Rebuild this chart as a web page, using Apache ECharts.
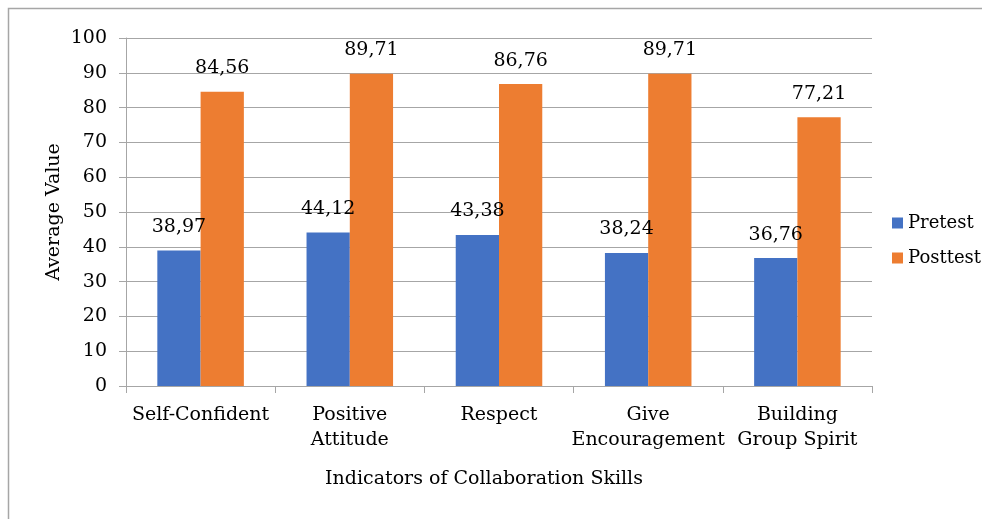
<!DOCTYPE html>
<html>
<head>
<meta charset="utf-8">
<script src="https://cdn.jsdelivr.net/npm/echarts@6/dist/echarts.min.js"></script>
<style>
  html, body { margin: 0; padding: 0; background: #fff; }
  #chart { width: 982px; height: 519px; }
</style>
</head>
<body>
<div id="chart"></div>
<script>
var categories = ['Self-Confident', 'Positive\nAttitude', 'Respect', 'Give\nEncouragement', 'Building\nGroup Spirit'];
var pretest = [38.97, 44.12, 43.38, 38.24, 36.76];
var posttest = [84.56, 89.71, 86.76, 89.71, 77.21];
var yTicks = { min: 0, max: 100, interval: 10 };

var FONT = 'DejaVu Serif';
var FS = 19;
var chart = echarts.init(document.getElementById('chart'));

function fmt(p) {
  return p.value.toFixed(2).replace('.', ',');
}

var option = {
  textStyle: { fontFamily: FONT, color: '#000' },
  animation: false,
  grid: { left: 126, right: 110, top: 38, bottom: 133 },
  legend: {
    orient: 'vertical',
    left: 887,
    top: 209,
    itemWidth: 11,
    itemHeight: 11,
    itemGap: 17,
    icon: 'rect',
    textStyle: { fontFamily: FONT, fontSize: 18, color: '#000' },
    data: ['Pretest', 'Posttest']
  },
  xAxis: {
    type: 'category',
    data: categories,
    axisLine: { lineStyle: { color: '#a6a6a6', width: 1 } },
    axisTick: { show: true, length: 7, lineStyle: { color: '#a6a6a6' } },
    axisLabel: { fontFamily: FONT, fontSize: FS, color: '#000', margin: 17, lineHeight: 25, interval: 0 }
  },
  yAxis: {
    type: 'value',
    min: yTicks.min,
    max: yTicks.max,
    interval: yTicks.interval,
    axisLine: { show: true, lineStyle: { color: '#a6a6a6', width: 1 } },
    axisTick: { show: true, length: 7, lineStyle: { color: '#a6a6a6' } },
    splitLine: { lineStyle: { color: '#a6a6a6', width: 1 } },
    axisLabel: { fontFamily: FONT, fontSize: FS, color: '#000', margin: 19 }
  },
  graphic: [
    {
      type: 'rect',
      shape: { x: 8.5, y: 8.5, width: 1000, height: 600 },
      style: { fill: null, stroke: '#a6a6a6', lineWidth: 1.5 },
      silent: true
    },
    {
      type: 'text',
      x: 54, y: 212,
      rotation: Math.PI / 2,
      style: { text: 'Average Value', fill: '#000', font: FS + 'px "DejaVu Serif"', align: 'center', verticalAlign: 'middle' }
    },
    {
      type: 'text',
      x: 484, y: 479,
      style: { text: 'Indicators of Collaboration Skills', fill: '#000', font: FS + 'px "DejaVu Serif"', align: 'center', verticalAlign: 'middle' }
    }
  ],
  series: [
    {
      name: 'Pretest',
      type: 'bar',
      data: pretest,
      barGap: '0%',
      barCategoryGap: '42%',
      itemStyle: { color: '#4472c4' },
      label: { show: true, position: 'top', distance: 14, formatter: fmt, fontFamily: FONT, fontSize: FS, color: '#000' }
    },
    {
      name: 'Posttest',
      type: 'bar',
      data: posttest,
      barGap: '0%',
      barCategoryGap: '42%',
      itemStyle: { color: '#ed7d31' },
      label: { show: true, position: 'top', distance: 14, formatter: fmt, fontFamily: FONT, fontSize: FS, color: '#000' }
    }
  ]
};
chart.setOption(option);
</script>
</body>
</html>
